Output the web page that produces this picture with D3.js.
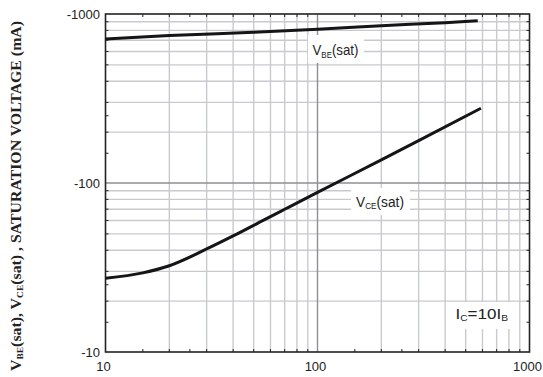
<!DOCTYPE html>
<html><head><meta charset="utf-8">
<script src="https://cdn.jsdelivr.net/npm/d3@7/dist/d3.min.js"></script>
<style>
html,body{margin:0;padding:0;background:#fff;}
svg{display:block;}
</style></head>
<body>
<svg id="c" width="543" height="377"></svg>
<script>
// ---- data ----
const xTickValues = [10, 100, 1000];
const xTickLabels = ["10", "100", "1000"];
const yTickValues = [10, 100, 1000];
const yTickLabels = ["-10", "-100", "-1000"];
const gridMinor = [20, 30, 40, 50, 60, 70, 80, 90, 200, 300, 400, 500, 600, 700, 800, 900];
const gridMajor = [100];
const vbeX = [10, 20, 50, 100, 200, 400, 570];
const vbeY = [711, 745, 780, 812, 853, 888, 912];
const vceX = [10, 15, 20, 30, 40, 56, 70, 100, 200, 300, 590];
const vceY = [27.3, 29.4, 32.4, 40.7, 48.6, 60.5, 69.9, 88, 137, 178, 277];

const svg = d3.select("#c");
const L = 105.5, R = 529.5, T = 14, B = 352;
const x = d3.scaleLog().domain([10, 1000]).range([L, R]);
const y = d3.scaleLog().domain([10, 1000]).range([B, T]);

// grid
const g = svg.append("g");
g.selectAll(".vx").data(gridMinor).join("line")
  .attr("x1", d => x(d)).attr("x2", d => x(d)).attr("y1", T).attr("y2", B)
  .attr("stroke", "#c9cad0").attr("stroke-width", 1.4);
g.selectAll(".hy").data(gridMinor).join("line")
  .attr("y1", d => y(d)).attr("y2", d => y(d)).attr("x1", L).attr("x2", R)
  .attr("stroke", "#c9cad0").attr("stroke-width", 1.4);
g.selectAll(".vM").data(gridMajor).join("line")
  .attr("x1", d => x(d)).attr("x2", d => x(d)).attr("y1", T).attr("y2", B)
  .attr("stroke", "#8e8e94").attr("stroke-width", 1.4);
g.selectAll(".hM").data(gridMajor).join("line")
  .attr("y1", d => y(d)).attr("y2", d => y(d)).attr("x1", L).attr("x2", R)
  .attr("stroke", "#8e8e94").attr("stroke-width", 1.4);

// small ticks on frame
const minorTicks = [];
[10, 100].forEach(dec => { [1.5, 2, 2.5, 3, 4, 5, 6, 7, 8, 9].forEach(m => minorTicks.push(dec * m)); });
const tk = svg.append("g").attr("stroke", "#222").attr("stroke-width", 1);
tk.selectAll(".tb").data(minorTicks).join("line")
  .attr("x1", d => x(d)).attr("x2", d => x(d)).attr("y1", B).attr("y2", B - 3);
tk.selectAll(".tt").data(minorTicks).join("line")
  .attr("x1", d => x(d)).attr("x2", d => x(d)).attr("y1", T).attr("y2", T + 3);
tk.selectAll(".tl").data(minorTicks).join("line")
  .attr("y1", d => y(d)).attr("y2", d => y(d)).attr("x1", L).attr("x2", L + 3);
tk.selectAll(".tr").data(minorTicks).join("line")
  .attr("y1", d => y(d)).attr("y2", d => y(d)).attr("x1", R).attr("x2", R - 3);

// frame
svg.append("rect").attr("x", L).attr("y", T).attr("width", R - L).attr("height", B - T)
  .attr("fill", "none").attr("stroke", "#222").attr("stroke-width", 1.6);

// curves
const line = d3.line().x(d => x(d[0])).y(d => y(d[1])).curve(d3.curveMonotoneX);
svg.append("path").datum(vbeX.map((v, i) => [v, vbeY[i]])).attr("d", line)
  .attr("fill", "none").attr("stroke", "#151515").attr("stroke-width", 3);
svg.append("path").datum(vceX.map((v, i) => [v, vceY[i]])).attr("d", line)
  .attr("fill", "none").attr("stroke", "#151515").attr("stroke-width", 3);

// tick labels
const font = "Liberation Sans, Arial, sans-serif";
svg.selectAll(".xl").data(xTickValues).join("text")
  .attr("x", d => x(d) - 2).attr("y", 371).attr("text-anchor", "middle")
  .attr("font-family", font).attr("font-size", 13).attr("fill", "#222")
  .text((d, i) => xTickLabels[i]);
svg.selectAll(".yl").data(yTickValues).join("text")
  .attr("x", 100).attr("y", d => y(d) + 4.5).attr("text-anchor", "end")
  .attr("font-family", font).attr("font-size", 13).attr("fill", "#222")
  .text((d, i) => yTickLabels[i]);

// curve labels
function label(parts, tx, base, width, fs, box) {
  svg.append("rect").attr("x", box[0]).attr("y", box[1]).attr("width", box[2]).attr("height", box[3]).attr("fill", "#fff");
  const t = svg.append("text").attr("font-family", font).attr("font-size", fs).attr("fill", "#222");
  parts.forEach(p => {
    const s = t.append("tspan").text(p.t);
    if (p.sub) s.attr("font-size", fs * 0.6).attr("dy", 2.5); else if (p.back) s.attr("dy", -2.5);
  });
  const w = t.node().getComputedTextLength();
  t.attr("transform", `translate(${tx},${base}) scale(${width / w},1)`);
}
label([{t:"V"},{t:"BE",sub:true},{t:"(sat)",back:true}], 312.5, 55, 46, 15, [308, 35, 56, 28]);
label([{t:"V"},{t:"CE",sub:true},{t:"(sat)",back:true}], 356, 206.5, 48, 15, [351, 188, 59, 27]);
label([{t:"I"},{t:"C",sub:true},{t:"=10I",back:true},{t:"B",sub:true}], 455.5, 318.5, 52.5, 15, [451, 302, 64, 27]);

// y title
const tt = svg.append("text").attr("font-family", "Liberation Serif, Times New Roman, serif")
  .attr("font-weight", "bold").attr("font-size", 15).attr("fill", "#222")
  .attr("text-anchor", "middle").attr("transform", "translate(21,196) rotate(-90)");
tt.append("tspan").text("V");
tt.append("tspan").text("BE").attr("font-size", 9).attr("dy", 2);
tt.append("tspan").text("(sat), V").attr("dy", -2);
tt.append("tspan").text("CE").attr("font-size", 9).attr("dy", 2);
tt.append("tspan").text("(sat) , SATURATION VOLTAGE (mA)").attr("dy", -2);
tt.attr("textLength", 350).attr("lengthAdjust", "spacingAndGlyphs");
</script>
</body></html>
